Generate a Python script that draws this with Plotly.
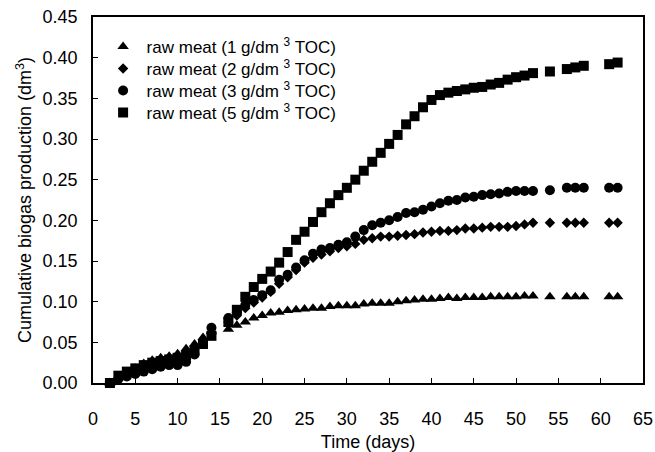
import plotly.graph_objects as go

days = [2, 3, 4, 5, 6, 7, 8, 9, 10, 11, 12, 13, 14, 16, 17, 18, 19, 20, 21, 22, 23, 24,
        25, 26, 27, 28, 29, 30, 31, 32, 33, 34, 35, 36, 37, 38, 39, 40, 41, 42, 43, 44,
        45, 46, 47, 48, 49, 50, 51, 52, 54, 56, 57, 58, 61, 62]

toc1 = [0.000, 0.008, 0.013, 0.018, 0.024, 0.028, 0.031, 0.033, 0.036, 0.042, 0.048, 0.056, 0.063,
        0.066, 0.071, 0.075, 0.080, 0.083, 0.086, 0.087, 0.089, 0.090, 0.091, 0.092, 0.092, 0.094,
        0.095, 0.095, 0.095, 0.097, 0.098, 0.098, 0.098, 0.100, 0.101, 0.102, 0.103, 0.103, 0.104,
        0.105, 0.104, 0.105, 0.105, 0.105, 0.106, 0.106, 0.106, 0.106, 0.107, 0.107,
        0.106, 0.106, 0.106, 0.106, 0.106, 0.106]

toc2 = [0.000, 0.006, 0.010, 0.014, 0.017, 0.020, 0.023, 0.027, 0.030, 0.035, 0.042, 0.052, 0.062,
        0.075, 0.083, 0.092, 0.099, 0.105, 0.112, 0.122, 0.130, 0.139, 0.148, 0.154, 0.158, 0.162,
        0.166, 0.168, 0.171, 0.176, 0.178, 0.180, 0.180, 0.181, 0.182, 0.183, 0.185, 0.186, 0.187,
        0.187, 0.188, 0.190, 0.190, 0.191, 0.192, 0.192, 0.192, 0.193, 0.195, 0.197,
        0.197, 0.197, 0.197, 0.197, 0.197, 0.197]

toc3 = [0.000, 0.005, 0.008, 0.011, 0.014, 0.017, 0.020, 0.022, 0.022, 0.026, 0.035, 0.048, 0.068,
        0.080, 0.087, 0.096, 0.102, 0.108, 0.114, 0.127, 0.133, 0.142, 0.151, 0.159, 0.164, 0.166,
        0.170, 0.173, 0.180, 0.188, 0.194, 0.197, 0.200, 0.204, 0.209, 0.210, 0.213, 0.217, 0.221,
        0.224, 0.225, 0.228, 0.229, 0.231, 0.232, 0.233, 0.235, 0.236, 0.236, 0.236,
        0.237, 0.240, 0.240, 0.240, 0.240, 0.240]

toc5 = [0.000, 0.009, 0.014, 0.018, 0.022, 0.025, 0.027, 0.029, 0.031, 0.034, 0.040, 0.048, 0.058,
        0.075, 0.090, 0.106, 0.118, 0.128, 0.137, 0.148, 0.161, 0.176, 0.186, 0.198, 0.210, 0.221,
        0.231, 0.240, 0.250, 0.261, 0.272, 0.283, 0.294, 0.305, 0.318, 0.328, 0.339, 0.348, 0.354,
        0.357, 0.359, 0.361, 0.363, 0.364, 0.367, 0.369, 0.373, 0.376, 0.378, 0.381,
        0.383, 0.386, 0.388, 0.390, 0.392, 0.394]

names = ["raw meat (1 g/dm <sup>3</sup> TOC)", "raw meat (2 g/dm <sup>3</sup> TOC)",
         "raw meat (3 g/dm <sup>3</sup> TOC)", "raw meat (5 g/dm <sup>3</sup> TOC)"]
series = [toc1, toc2, toc3, toc5]
symbols = ["triangle-up", "diamond", "circle", "square"]
sizes = [10, 8, 10, 10]

x_ticks = list(range(0, 70, 5))
y_ticks = [0.00, 0.05, 0.10, 0.15, 0.20, 0.25, 0.30, 0.35, 0.40, 0.45]

FONT = "Arial, Liberation Sans, sans-serif"

legend_ids = ["legend", "legend2", "legend3", "legend4"]
legend_y = [0.918, 0.858, 0.798, 0.738]

fig = go.Figure()
for name, vals, sym, sz, lid in zip(names, series, symbols, sizes, legend_ids):
    fig.add_trace(go.Scatter(
        x=days, y=vals, mode="markers", name=name, legend=lid,
        marker=dict(symbol=sym, size=sz, color="black", line=dict(width=0)),
        cliponaxis=False,
    ))

layout_legends = {}
for lid, ly in zip(legend_ids, legend_y):
    layout_legends[lid] = dict(
        x=0.012, y=ly, xanchor="left", yanchor="middle",
        bgcolor="rgba(0,0,0,0)", font=dict(size=17, family=FONT),
        itemwidth=37, borderwidth=0,
    )

fig.update_layout(
    width=655, height=452,
    margin=dict(l=93, r=12, t=17, b=69, autoexpand=False),
    paper_bgcolor="white", plot_bgcolor="white",
    font=dict(family=FONT, color="black", size=18),
    showlegend=True,
    **layout_legends,
)
fig.update_xaxes(
    range=[0, 65], tickmode="array", tickvals=x_ticks, ticktext=[str(t) for t in x_ticks],
    ticks="inside", ticklen=5, tickcolor="black", showline=True, linecolor="black",
    linewidth=1.5, mirror=True, showgrid=False, zeroline=False, automargin=False,
    ticklabelstandoff=19, tickfont=dict(size=18),
    title=dict(text="Time (days)", font=dict(size=18), standoff=8),
)
fig.update_yaxes(
    range=[0, 0.45], tickmode="array", tickvals=y_ticks,
    ticktext=[f"{t:.2f}" for t in y_ticks],
    ticks="inside", ticklen=5, tickcolor="black", showline=True, linecolor="black",
    linewidth=1.5, mirror=True, showgrid=False, zeroline=False, automargin=False,
    ticklabelstandoff=10, tickfont=dict(size=18),
    title=dict(text="Cumulative biogas production (dm<sup>3</sup>)", font=dict(size=18), standoff=6),
)

fig.write_html("out.html")
